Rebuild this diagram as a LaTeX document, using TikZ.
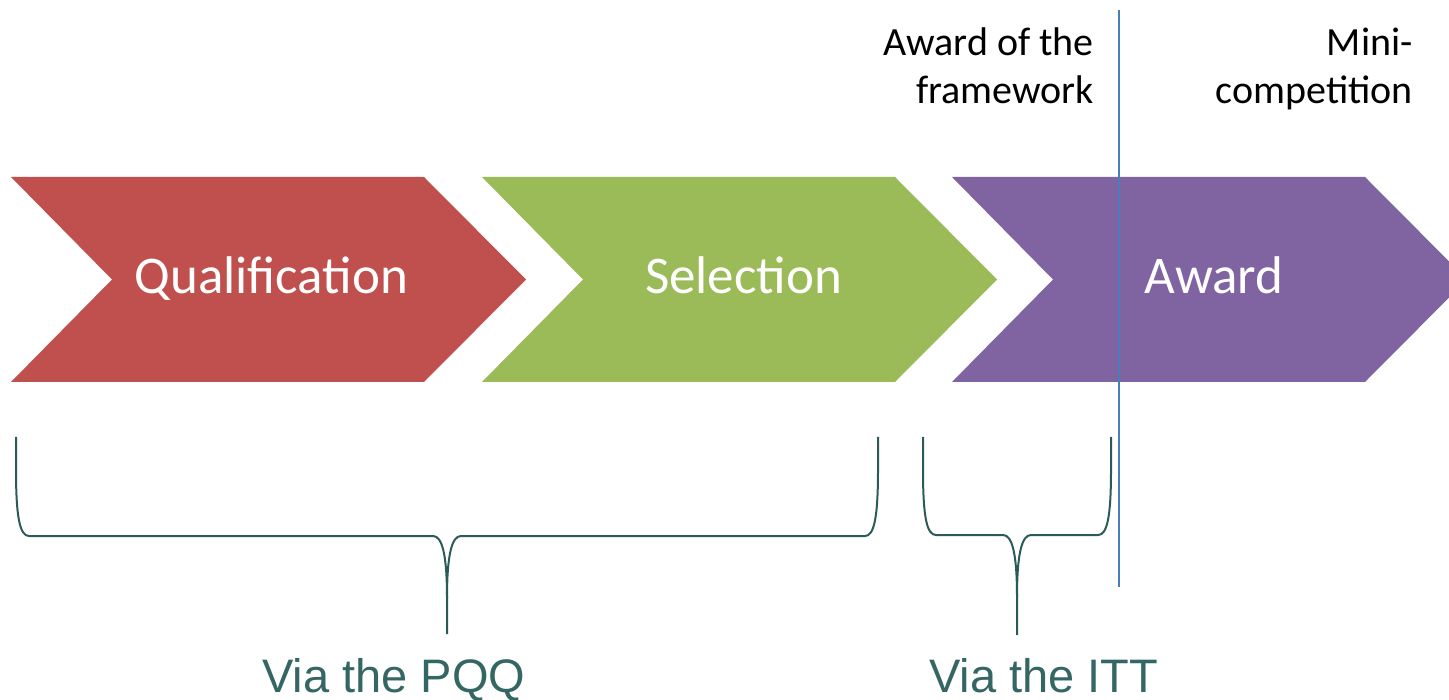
\documentclass[tikz,border=0pt]{standalone}
\usepackage{fontspec}
\newfontfamily\calfont{Carlito}
\newfontfamily\arialfont{Liberation Sans}
\definecolor{chred}{HTML}{C0504D}
\definecolor{chgreen}{HTML}{9BBB59}
\definecolor{chpurple}{HTML}{8064A2}
\definecolor{divblue}{HTML}{4A7EBB}
\definecolor{bracecol}{HTML}{2B5B58}
\definecolor{tealtext}{HTML}{346663}
\newcommand\chevronshape[3]{%
  \fill[#3] (#1,177) -- (#2,177) -- (#2+102,279.5) -- (#2,382) -- (#1,382) -- (#1+101,279.5) -- cycle;}
\newcommand\curlybrace[5]{% left, right, tip x, horizontal y, tip y
  \draw[bracestyle] (#1,437) -- (#1,470) .. controls (#1,518) and (#1+4,#4) .. (#1+13,#4)
    -- (#3-14,#4) .. controls (#3-5,#4) and (#3,#4+18) .. (#3,#4+62) -- (#3,#5);
  \draw[bracestyle] (#3,#4+62) .. controls (#3,#4+18) and (#3+5,#4) .. (#3+14,#4)
    -- (#2-13,#4) .. controls (#2-4,#4) and (#2,518) .. (#2,470) -- (#2,437);}
\begin{document}
\begin{tikzpicture}[x=1pt,y=-1pt,
  bracestyle/.style={draw=bracecol,line width=2pt},
  chevtext/.style={text=white,font=\calfont\fontsize{53}{60}\selectfont,anchor=base,inner sep=0pt},
  toplabel/.style={text=black,font=\calfont\fontsize{40}{48.5}\selectfont,align=right,anchor=base east,inner sep=0pt},
  vialabel/.style={text=tealtext,font=\arialfont\fontsize{47}{54}\selectfont,anchor=base west,inner sep=0pt}]
\useasboundingbox (0,0) rectangle (1449,700);
\begin{scope}
  \clip (0,0) rectangle (1449,700);
  \chevronshape{11}{424}{chred}
  \chevronshape{482}{895}{chgreen}
  \chevronshape{952}{1365}{chpurple}
\end{scope}
\node[chevtext] (qual) at (271.5,294) {Qualification};
\node[chevtext] (sel) at (743.5,294) {Selection};
\node[chevtext] (award) at (1214,294) {Award};
\coordinate (divtop) at (1119,10);
\coordinate (divbot) at (1119,587);
\draw[divblue,line width=2.2pt] (divtop) -- (divbot);
\node[toplabel] (fw) at (1094,104) {Award of the\\framework};
\node[toplabel] (mini) at (1413,104) {Mini-\\competition};
\curlybrace{16}{878}{447}{536}{634}
\curlybrace{923}{1111}{1017}{535}{635}
\node[vialabel] (pqq) at (262,692) {Via the PQQ};
\node[vialabel] (itt) at (929,692) {Via the ITT};
\end{tikzpicture}
\end{document}
